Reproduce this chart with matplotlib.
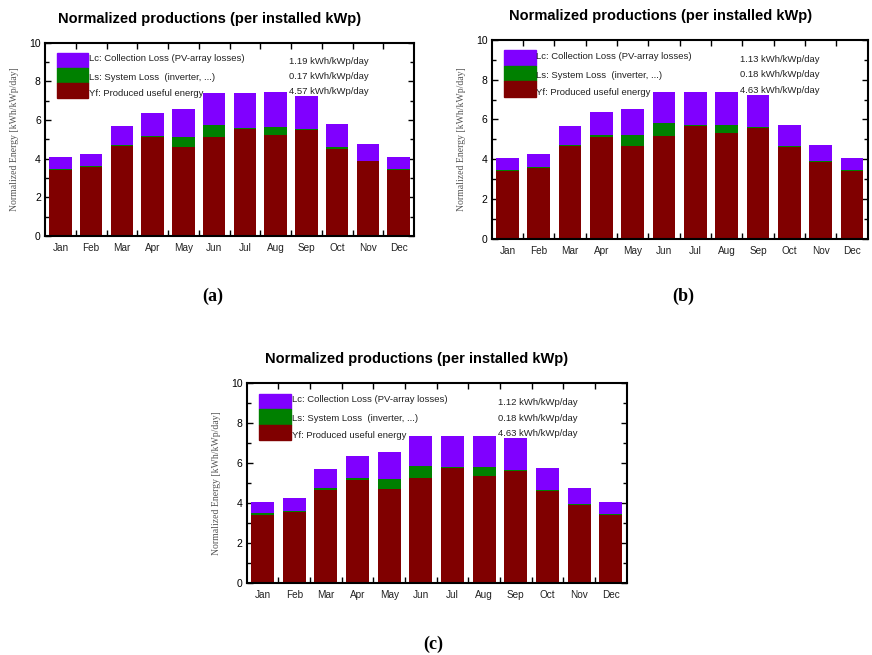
import matplotlib
matplotlib.use("Agg")
import matplotlib.pyplot as plt
from matplotlib.patches import Rectangle
import numpy as np

months = ["Jan", "Feb", "Mar", "Apr", "May", "Jun", "Jul", "Aug", "Sep", "Oct", "Nov", "Dec"]

# (a)
yf_a = [3.43, 3.57, 4.66, 5.12, 4.60, 5.10, 5.55, 5.21, 5.47, 4.52, 3.86, 3.40]
ls_a = [0.04, 0.05, 0.03, 0.04, 0.52, 0.62, 0.05, 0.41, 0.05, 0.08, 0.04, 0.05]
lc_a = [0.60, 0.64, 1.02, 1.22, 1.45, 1.66, 1.78, 1.81, 1.72, 1.18, 0.84, 0.62]
avg_a = ["1.19", "0.17", "4.57"]

# (b)
yf_b = [3.41, 3.57, 4.68, 5.13, 4.66, 5.18, 5.67, 5.30, 5.57, 4.60, 3.86, 3.41]
ls_b = [0.06, 0.05, 0.03, 0.07, 0.54, 0.63, 0.07, 0.44, 0.05, 0.05, 0.05, 0.06]
lc_b = [0.59, 0.64, 0.98, 1.16, 1.34, 1.56, 1.63, 1.63, 1.59, 1.09, 0.80, 0.57]
avg_b = ["1.13", "0.18", "4.63"]

# (c)
yf_c = [3.41, 3.56, 4.67, 5.15, 4.68, 5.23, 5.74, 5.37, 5.60, 4.60, 3.90, 3.39]
ls_c = [0.07, 0.05, 0.06, 0.08, 0.54, 0.64, 0.06, 0.42, 0.07, 0.05, 0.05, 0.07]
lc_c = [0.58, 0.65, 0.97, 1.14, 1.32, 1.50, 1.57, 1.58, 1.57, 1.10, 0.78, 0.60]
avg_c = ["1.12", "0.18", "4.63"]

legend_labels = ["Lc: Collection Loss (PV-array losses)",
                 "Ls: System Loss  (inverter, ...)",
                 "Yf: Produced useful energy"]

C_LC = "#8000ff"
C_LS = "#008000"
C_YF = "#800000"

SANS = "Liberation Sans"
SERIF = "Liberation Serif"


def draw_panel(fig, rect, yf, ls, lc, avgs, title_xy, tag, tag_xy):
    ax = fig.add_axes(rect)
    x = np.arange(len(months))
    yf = np.array(yf)
    ls = np.array(ls)
    lc = np.array(lc)
    w = 0.73
    ax.bar(x, yf, w, color=C_YF, zorder=2)
    ax.bar(x, ls, w, bottom=yf, color=C_LS, zorder=2)
    ax.bar(x, lc, w, bottom=yf + ls, color=C_LC, zorder=2)

    ax.set_xlim(-0.5, 11.5)
    ax.set_ylim(0, 10)
    ax.set_yticks(np.arange(0, 11, 2))
    ax.set_yticks(np.arange(1, 10, 2), minor=True)
    ax.set_xticks(x)
    ax.set_xticklabels(months, family=SANS, fontsize=7.2, color="#222222")
    ax.set_xticks(np.arange(0.5, 11, 1), minor=True)
    ax.tick_params(axis="x", which="major", length=0, pad=5)
    ax.tick_params(axis="x", which="minor", direction="in", length=4, width=1,
                   top=True, bottom=True)
    ax.tick_params(axis="y", which="both", direction="in", left=True, right=True,
                   width=1, labelsize=7.5, pad=3)
    ax.tick_params(axis="y", which="major", length=4)
    ax.tick_params(axis="y", which="minor", length=3)
    for lab in ax.get_yticklabels():
        lab.set_family(SANS)
    for sp in ax.spines.values():
        sp.set_linewidth(1.5)
        sp.set_zorder(3)
    ax.set_ylabel("Normalized Energy [kWh/kWp/day]", family=SERIF, fontsize=7,
                  color="#555555", labelpad=7)

    # legend boxes and averages
    tops = [0.869, 0.792, 0.714]
    colors = [C_LC, C_LS, C_YF]
    text_y = [0.917, 0.821, 0.736]
    val_y = [0.902, 0.824, 0.747]
    for i in range(3):
        ax.add_patch(Rectangle((0.033, tops[i]), 0.084, 0.079, transform=ax.transAxes,
                               color=colors[i], zorder=4, clip_on=False))
        ax.text(0.119, text_y[i], legend_labels[i], transform=ax.transAxes,
                family=SANS, fontsize=6.8, va="center", ha="left", color="#222222", zorder=5)
        ax.text(0.66, val_y[i], avgs[i] + " kWh/kWp/day", transform=ax.transAxes,
                family=SANS, fontsize=6.8, va="center", ha="left", color="#222222", zorder=5)

    fig.text(title_xy[0], title_xy[1], "Normalized productions (per installed kWp)",
             family=SANS, fontsize=10.5, fontweight="bold", ha="center", va="center")
    fig.text(tag_xy[0], tag_xy[1], tag, family=SERIF, fontsize=13,
             fontweight="bold", ha="center", va="center")
    return ax


fig = plt.figure(figsize=(8.72, 6.55), dpi=100)
draw_panel(fig, [0.0516, 0.6397, 0.4232, 0.2951], yf_a, ls_a, lc_a, avg_a,
           (210 / 872, 1 - 19 / 655), "(a)", (213 / 872, 1 - 296 / 655))
draw_panel(fig, [0.5639, 0.6356, 0.4312, 0.3033], yf_b, ls_b, lc_b, avg_b,
           (661 / 872, 1 - 16 / 655), "(b)", (683 / 872, 1 - 296 / 655))
draw_panel(fig, [0.2829, 0.1104, 0.4358, 0.3044], yf_c, ls_c, lc_c, avg_c,
           (417 / 872, 1 - 359 / 655), "(c)", (433 / 872, 1 - 644 / 655))
plt.savefig("out.png", dpi=100)
